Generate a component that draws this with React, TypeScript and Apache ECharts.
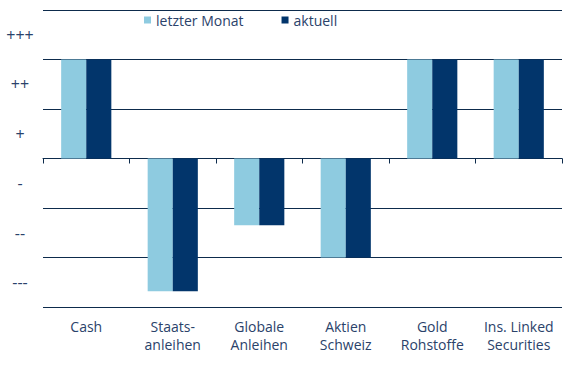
import React, { useEffect, useRef } from "react";
import * as echarts from "echarts";

const categories = ["Cash", "Staats-\nanleihen", "Globale\nAnleihen", "Aktien\nSchweiz", "Gold\nRohstoffe", "Ins. Linked\nSecurities"];
const lastMonth = [2, -2.68, -1.35, -2, 2, 2];
const current = [2, -2.68, -1.35, -2, 2, 2];
const seriesNames = ["letzter Monat", "aktuell"];
const yLevels = [2.5, 1.5, 0.5, -0.5, -1.5, -2.5];
const yLevelLabels = ["+++", "++", "+", "-", "--", "---"];

const LIGHT = "#8ecbe0";
const DARK = "#02356b";
const LINE = "#0d2b4c";
const TEXT = "#2a426a";
const FONT = "Open Sans";

export default function App() {
  const ref = useRef<HTMLDivElement>(null);
  useEffect(() => {
    const chart = echarts.init(ref.current!, null, { renderer: "svg" });
    chart.setOption({
      animation: false,
      textStyle: { fontFamily: FONT, color: TEXT },
      legend: {
        data: seriesNames,
        left: 139,
        top: 8,
        icon: "rect",
        itemWidth: 7,
        itemHeight: 7,
        itemGap: 38,
        textStyle: { fontSize: 14, color: TEXT, fontFamily: FONT },
      },
      grid: { left: 43, right: 4, top: 10, bottom: 58 },
      xAxis: [
        {
          type: "category",
          data: categories,
          axisLine: { show: true, onZero: true, lineStyle: { color: LINE, width: 1 } },
          axisTick: { show: true, length: 5, alignWithLabel: false, lineStyle: { color: LINE } },
          axisLabel: { show: false },
          splitLine: { show: false },
        },
        {
          type: "category",
          data: categories,
          position: "bottom",
          axisLine: { show: false, onZero: false },
          axisTick: { show: false },
          axisLabel: { show: true, fontSize: 14, lineHeight: 18, color: TEXT, fontFamily: FONT, margin: 10, interval: 0 },
          splitLine: { show: false },
        },
      ],
      yAxis: [
        {
          type: "value",
          min: -3,
          max: 3,
          interval: 1,
          axisLine: { show: false },
          axisTick: { show: false },
          axisLabel: { show: false },
          splitLine: { show: true, lineStyle: { color: LINE, width: 1 } },
        },
        {
          type: "value",
          position: "left",
          min: -3,
          max: 3,
          interval: 0.5,
          axisLine: { show: false },
          axisTick: { show: false },
          splitLine: { show: false },
          axisLabel: {
            show: true,
            fontSize: 16,
            color: TEXT,
            fontFamily: FONT,
            align: "center",
            margin: 23,
            formatter: (v: number) => {
              const i = yLevels.findIndex((l) => Math.abs(l - v) < 1e-6);
              return i >= 0 ? yLevelLabels[i] : "";
            },
          },
        },
      ],
      series: [
        {
          name: seriesNames[0],
          type: "bar",
          data: lastMonth,
          xAxisIndex: 0,
          yAxisIndex: 0,
          barGap: "0%",
          barCategoryGap: "42%",
          itemStyle: { color: LIGHT },
        },
        {
          name: seriesNames[1],
          type: "bar",
          data: current,
          xAxisIndex: 0,
          yAxisIndex: 0,
          barGap: "0%",
          barCategoryGap: "42%",
          itemStyle: { color: DARK },
        },
      ],
    });
    return () => chart.dispose();
  }, []);
  return (
    <div
      ref={ref}
      style={{ position: "fixed", left: 0, top: 0, width: 566, height: 365, background: "#fff" }}
    />
  );
}
